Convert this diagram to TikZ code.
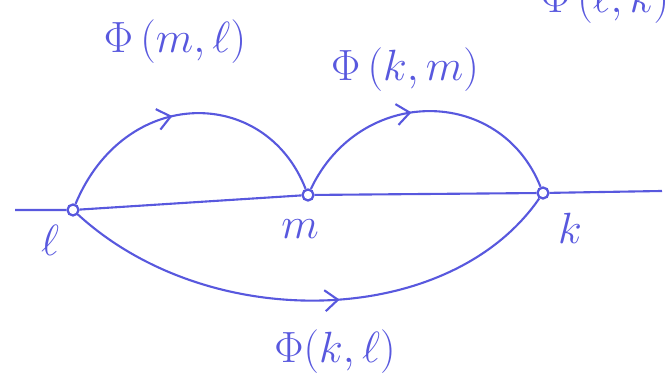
\documentclass[tikz,border=0pt]{standalone}
\usepackage{amsmath}
\usepackage{tikz}
\usetikzlibrary{arrows.meta,decorations.markings}
\definecolor{pen}{RGB}{88,88,222}

\begin{document}
\begin{tikzpicture}[line width=1.2pt,draw=pen,
  dot/.style={circle,draw=pen,line width=1.3pt,minimum size=0.22cm,inner sep=0pt},
  lab/.style={text=pen,font=\fontsize{23}{27}\selectfont,inner sep=1pt},
  midarrow/.style={postaction={decorate},decoration={markings,mark=at position #1 with {\arrow{Straight Barb[length=2.6mm,width=4.2mm,line width=1.2pt]}}}}]
\clip (0,0) rectangle (13.38,7.66);
\node[dot] (l) at (1.46,3.46) {};
\node[dot] (m) at (6.16,3.76) {};
\node[dot] (k) at (10.86,3.80) {};
\coordinate (w) at (0.30,3.46);
\coordinate (e) at (13.24,3.84);
\draw (w)--(l)--(m)--(k)--(e);
\node[lab] (ll) at (1.0,2.86) {$\ell$};
\node[lab] (ml) at (6.0,3.08) {$m$};
\node[lab] (kl) at (11.4,3.10) {$k$};
\draw[midarrow=0.45] (l) .. controls (2.5,5.95) and (5.3,5.95) .. (m);
\draw[midarrow=0.45] (m) .. controls (7.2,5.95) and (10.0,5.95) .. (k);
\draw[midarrow=0.55] (l) .. controls (4.2,0.95) and (9.0,1.1) .. (k);
\node[lab] (phiml) at (3.5,6.82) {$\Phi\,(m,\ell)$};
\node[lab] (phikm) at (8.1,6.26) {$\Phi\,(k,m)$};
\node[lab] (phikl) at (6.7,0.62) {$\Phi(k,\ell)$};
\node[lab] (philk) at (12.1,7.62) {$\Phi\,(\ell,k)$};
\end{tikzpicture}
\end{document}
